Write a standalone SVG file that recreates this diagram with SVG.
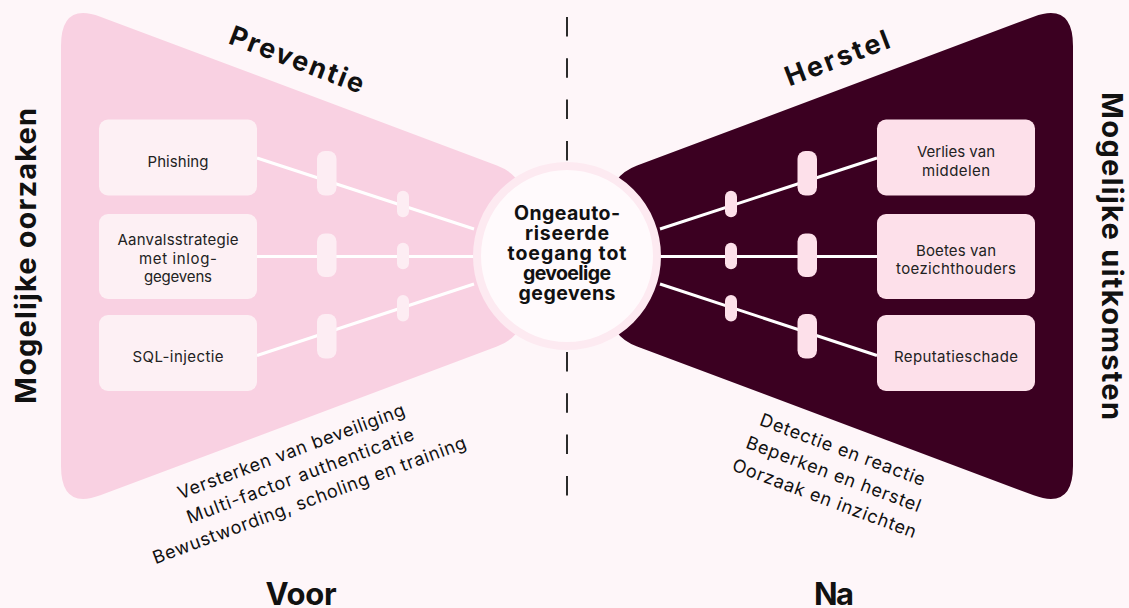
<svg xmlns="http://www.w3.org/2000/svg" width="1129" height="608" viewBox="0 0 1129 608">
<style>
text{font-family:Inter,"Liberation Sans",Arial,sans-serif;fill:#111}
.lbl{font-size:15px;text-anchor:middle;fill:#222}
.conn{stroke:#ffffff;stroke-width:3;fill:none}
.pill-l{fill:#fdedf3}
.pill-r{fill:#fde0ea}
.box-l{fill:#fdf0f4}
.box-r{fill:#fde0ea}
.note{font-size:18px;text-anchor:middle}
.title{font-size:27px;font-weight:700;text-anchor:middle}
.side{font-size:29px;font-weight:700;text-anchor:middle}
.period{font-size:31px;font-weight:700;text-anchor:middle}
.center{font-size:19.5px;font-weight:700;text-anchor:middle}
.dash{stroke:#2b2b2b;stroke-width:2;fill:none}
</style>
<rect width="1129" height="608" fill="#fef6f9"/>

<g id="prevention-area">
<path d="M61,46 Q61,2 100.3,16.7 L496.9,165.5 Q525,176 525,206 L525,306 Q525,336 496.9,346.5 L100.3,495.3 Q61,510 61,466 Z" fill="#f9d1e2"/>
</g>
<g id="recovery-area">
<path d="M1073,46 Q1073,2 1033.7,16.7 L637.1,165.5 Q609,176 609,206 L609,306 Q609,336 637.1,346.5 L1033.7,495.3 Q1073,510 1073,466 Z" fill="#3b0021"/>
</g>

<g id="divider">
<line class="dash" x1="567" y1="17" x2="567" y2="162" stroke-dasharray="19.5 21.8"/>
<line class="dash" x1="567" y1="352" x2="567" y2="496" stroke-dasharray="19.5 21.8"/>
</g>

<g id="connectors">
<line class="conn" x1="257" y1="158" x2="474" y2="229"/>
<line class="conn" x1="257" y1="256.5" x2="474" y2="256.5"/>
<line class="conn" x1="257" y1="355.5" x2="474" y2="284"/>
<line class="conn" x1="877" y1="158" x2="660" y2="229"/>
<line class="conn" x1="877" y1="256.5" x2="660" y2="256.5"/>
<line class="conn" x1="877" y1="355.5" x2="660" y2="284"/>
</g>

<g id="barriers">
<rect class="pill-l" x="317" y="151" width="19.5" height="44.5" rx="8"/>
<rect class="pill-l" x="317" y="233.5" width="19.5" height="43.5" rx="8"/>
<rect class="pill-l" x="317" y="314" width="19.5" height="44.5" rx="8"/>
<rect class="pill-l" x="397" y="190.7" width="12" height="26.6" rx="6"/>
<rect class="pill-l" x="397" y="242.7" width="12" height="26.6" rx="6"/>
<rect class="pill-l" x="397" y="295" width="12" height="26.6" rx="6"/>
<rect class="pill-r" x="797.5" y="151" width="19.5" height="44.5" rx="8"/>
<rect class="pill-r" x="797.5" y="233.5" width="19.5" height="43.5" rx="8"/>
<rect class="pill-r" x="797.5" y="314" width="19.5" height="44.5" rx="8"/>
<rect class="pill-r" x="725" y="190.7" width="12" height="26.6" rx="6"/>
<rect class="pill-r" x="725" y="242.7" width="12" height="26.6" rx="6"/>
<rect class="pill-r" x="725" y="295" width="12" height="26.6" rx="6"/>
</g>

<g id="cause-phishing">
<rect class="box-l" x="99" y="119.5" width="158" height="76" rx="9"/>
<text class="lbl" x="178" y="166.5" textLength="61">Phishing</text>
</g>
<g id="cause-credentials">
<rect class="box-l" x="99" y="214" width="158" height="85" rx="9"/>
<text class="lbl" x="178" y="245" textLength="121">Aanvalsstrategie</text>
<text class="lbl" x="178" y="263.5" textLength="78">met inlog-</text>
<text class="lbl" x="178" y="282" textLength="68">gegevens</text>
</g>
<g id="cause-sql">
<rect class="box-l" x="99" y="315" width="158" height="76" rx="9"/>
<text class="lbl" x="178" y="361.5" textLength="91">SQL-injectie</text>
</g>

<g id="outcome-assets">
<rect class="box-r" x="877" y="119.5" width="158" height="76" rx="9"/>
<text class="lbl" x="956" y="156.7" textLength="78">Verlies van</text>
<text class="lbl" x="956" y="175.7" textLength="68">middelen</text>
</g>
<g id="outcome-fines">
<rect class="box-r" x="877" y="214" width="158" height="85" rx="9"/>
<text class="lbl" x="956" y="255.7" textLength="80">Boetes van</text>
<text class="lbl" x="956" y="274.3" textLength="120">toezichthouders</text>
</g>
<g id="outcome-reputation">
<rect class="box-r" x="877" y="315" width="158" height="76" rx="9"/>
<text class="lbl" x="956" y="361.7" textLength="124">Reputatieschade</text>
</g>

<g id="event">
<circle cx="567" cy="256" r="90" fill="#fffafc" stroke="#fdeaf1" stroke-width="8"/>
<text class="center" x="567" y="220" textLength="106">Ongeauto-</text>
<text class="center" x="567" y="240" textLength="84">riseerde</text>
<text class="center" x="567" y="260" textLength="119">toegang tot</text>
<text class="center" x="567" y="280" textLength="88">gevoelige</text>
<text class="center" x="567" y="300" textLength="97">gegevens</text>
</g>

<g id="labels">
<text class="title" transform="translate(297,59) rotate(21)" x="0" y="10" textLength="142">Preventie</text>
<text class="title" transform="translate(837,57.5) rotate(-21)" x="0" y="10" textLength="110">Herstel</text>
<text class="side" transform="translate(36,256) rotate(-90)" x="0" y="0" textLength="296">Mogelijke oorzaken</text>
<text class="side" transform="translate(1102,256) rotate(90)" x="0" y="0" textLength="328">Mogelijke uitkomsten</text>
<text class="period" x="301" y="605" textLength="71">Voor</text>
<text class="period" x="834" y="605" textLength="40">Na</text>
</g>

<g id="prevention-measures" transform="translate(291.5,452.5) rotate(-20.5)">
<text class="note" x="0" y="5" textLength="241">Versterken van beveiliging</text>
<text class="note" x="0" y="31" textLength="241">Multi-factor authenticatie</text>
<text class="note" x="0" y="57" textLength="333">Bewustwording, scholing en training</text>
</g>
<g id="recovery-measures" transform="translate(842.2,450.8) rotate(20.5)">
<text class="note" x="0" y="5" textLength="175">Detectie en reactie</text>
<text class="note" x="0" y="31" textLength="185">Beperken en herstel</text>
<text class="note" x="0" y="57" textLength="195">Oorzaak en inzichten</text>
</g>
</svg>
